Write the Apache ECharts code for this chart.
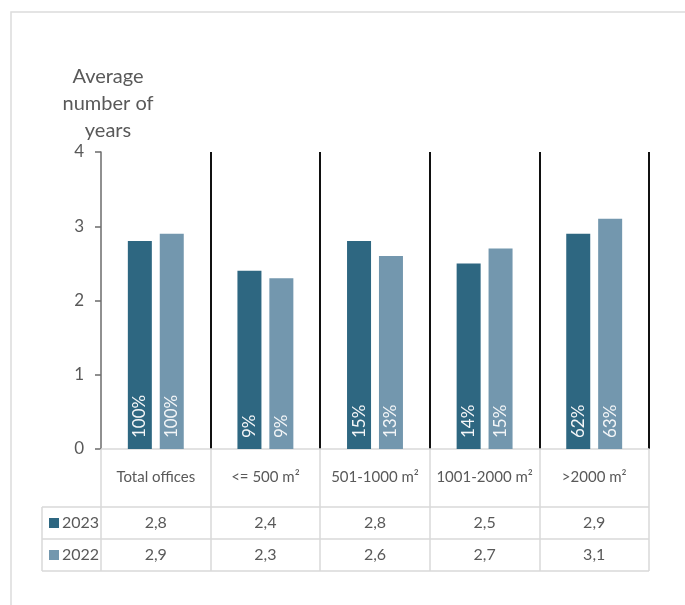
<!DOCTYPE html>
<html>
<head>
<meta charset="utf-8">
<style>
  html, body { margin: 0; padding: 0; background: #ffffff; }
  #chart { width: 685px; height: 605px; }
</style>
<script src="https://cdn.jsdelivr.net/npm/echarts@6/dist/echarts.min.js"></script>
</head>
<body>
<div id="chart"></div>
<script>
// Office size classes and average lease length (years) per year
const categories = ['Total offices', '<= 500 m²', '501-1000 m²', '1001-2000 m²', '>2000 m²'];
const years = ['2023', '2022'];
const values2023 = [2.8, 2.4, 2.8, 2.5, 2.9];
const values2022 = [2.9, 2.3, 2.6, 2.7, 3.1];
// Share of leases falling in each size class (%)
const shares2023 = [100, 9, 15, 14, 62];
const shares2022 = [100, 9, 13, 15, 63];
const yTicks = [0, 1, 2, 3, 4];

const FONT = 'Lato, "Liberation Sans", sans-serif';
const TEXT = '#595959';
const GRID_GRAY = '#d9d9d9';
const COLOR_2023 = '#2e6781';
const COLOR_2022 = '#7397ae';

const HEADER_H = 58;   // category header row of the data table
const ROW_H = 32;      // each value row of the data table
const LEGEND_LEFT = 42;

const fmt = v => v.toFixed(1).replace('.', ',');

const chart = echarts.init(document.getElementById('chart'), null, { renderer: 'canvas' });

const barLabel = shares => ({
  show: true,
  position: 'insideBottom',
  rotate: 90,
  align: 'left',
  verticalAlign: 'middle',
  distance: 11,
  color: '#f4f6f8',
  fontFamily: FONT,
  fontSize: 17,
  formatter: p => shares[p.dataIndex] + '%'
});

chart.setOption({
  animation: false,
  backgroundColor: '#ffffff',
  grid: { left: 101, right: 36, top: 152, bottom: 156 },
  xAxis: {
    type: 'category',
    data: categories,
    axisLine: { show: true, lineStyle: { color: GRID_GRAY, width: 1.5 } },
    axisTick: {
      show: true,
      interval: 0,
      inside: false,
      length: HEADER_H + 2 * ROW_H,
      lineStyle: { color: GRID_GRAY, width: 1.5 }
    },
    splitLine: {
      show: true,
      interval: 0,
      lineStyle: {
        color: ['rgba(0,0,0,0)', '#111111', '#111111', '#111111', '#111111', '#111111'],
        width: 2
      }
    },
    axisLabel: {
      interval: 0,
      margin: 21,
      color: TEXT,
      fontFamily: FONT,
      fontSize: 15
    }
  },
  yAxis: {
    type: 'value',
    min: yTicks[0],
    max: yTicks[yTicks.length - 1],
    interval: 1,
    name: 'Average\nnumber of\nyears',
    nameLocation: 'end',
    nameGap: -2,
    nameTextStyle: {
      color: TEXT,
      fontFamily: FONT,
      fontSize: 20,
      lineHeight: 27,
      align: 'center',
      verticalAlign: 'bottom',
      padding: [0, 0, 0, 14]
    },
    axisLine: { show: true, lineStyle: { color: '#6b6b6b', width: 1.5 } },
    axisTick: { show: true, inside: false, length: 6, lineStyle: { color: '#6b6b6b', width: 1.5 } },
    splitLine: { show: false },
    axisLabel: {
      margin: 17,
      color: TEXT,
      fontFamily: FONT,
      fontSize: 17
    }
  },
  series: [
    {
      name: years[0],
      type: 'bar',
      data: values2023,
      barWidth: 24,
      barGap: '33%',
      itemStyle: { color: COLOR_2023 },
      label: barLabel(shares2023),
      z: 3
    },
    {
      name: years[1],
      type: 'bar',
      data: values2022,
      barWidth: 24,
      itemStyle: { color: COLOR_2022 },
      label: barLabel(shares2022),
      z: 3
    }
  ]
});

// Data table under the plot, laid out from the axes' own pixel positions
const centers = categories.map((c, i) => chart.convertToPixel({ xAxisIndex: 0 }, i));
const band = centers[1] - centers[0];
const tableRight = centers[centers.length - 1] + band / 2;
const yBase = chart.convertToPixel({ yAxisIndex: 0 }, 0);
const rowTop = yBase + HEADER_H;

const graphics = [];

// outer frame
graphics.push({
  type: 'rect',
  shape: { x: 11, y: 12, width: 720, height: 640 },
  style: { fill: 'none', stroke: '#dcdcdc', lineWidth: 1.5 },
  silent: true,
  z: 0
});

// horizontal table rules
[0, 1, 2].forEach(k => {
  graphics.push({
    type: 'line',
    shape: { x1: LEGEND_LEFT, y1: rowTop + k * ROW_H, x2: tableRight, y2: rowTop + k * ROW_H },
    style: { stroke: GRID_GRAY, lineWidth: 1.5 },
    silent: true
  });
});
// left edge of the legend column
graphics.push({
  type: 'line',
  shape: { x1: LEGEND_LEFT, y1: rowTop, x2: LEGEND_LEFT, y2: rowTop + 2 * ROW_H },
  style: { stroke: GRID_GRAY, lineWidth: 1.5 },
  silent: true
});

const rows = [
  { year: years[0], color: COLOR_2023, values: values2023 },
  { year: years[1], color: COLOR_2022, values: values2022 }
];
rows.forEach((row, r) => {
  const cy = rowTop + r * ROW_H + ROW_H / 2;
  graphics.push({
    type: 'rect',
    shape: { x: 49, y: cy - 5, width: 10, height: 10 },
    style: { fill: row.color },
    silent: true
  });
  graphics.push({
    type: 'text',
    x: 62, y: cy,
    style: {
      text: row.year, fill: TEXT, font: '16px ' + FONT,
      align: 'left', verticalAlign: 'middle'
    },
    silent: true
  });
  row.values.forEach((v, i) => {
    graphics.push({
      type: 'text',
      x: centers[i], y: cy,
      style: {
        text: fmt(v), fill: TEXT, font: '16px ' + FONT,
        align: 'center', verticalAlign: 'middle'
      },
      silent: true
    });
  });
});

chart.setOption({ graphic: graphics });
</script>
</body>
</html>
